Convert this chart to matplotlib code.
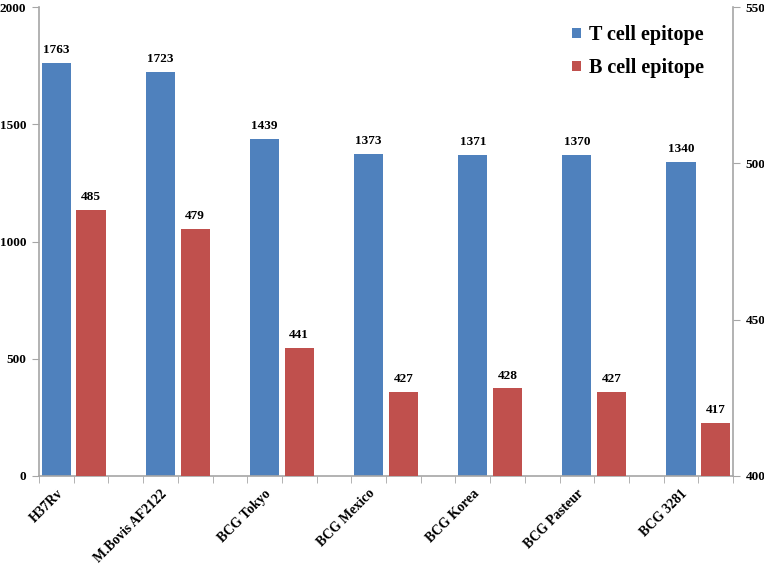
import matplotlib.pyplot as plt
import numpy as np

plt.rcParams['font.family'] = ['Liberation Serif', 'DejaVu Serif']
plt.rcParams['font.weight'] = 'bold'

# 数据
strains = ['H37Rv', 'M.Bovis AF2122', 'BCG Tokyo', 'BCG Mexico',
           'BCG Korea', 'BCG Pasteur', 'BCG 3281']
t_cell = [1763, 1723, 1439, 1373, 1371, 1370, 1340]
b_cell = [485, 479, 441, 427, 428, 427, 417]

blue = '#4F81BD'
red = '#C0504D'
axis_gray = '#A6A6A6'

fig = plt.figure(figsize=(7.64, 5.64), dpi=100)
ax = fig.add_axes([39 / 764, 88 / 564, 694 / 764, 469 / 564])
ax2 = ax.twinx()

# 每个菌株占3个位置：T细胞，B细胞，空白
n_slot = len(strains) * 3 - 1
x_t = np.arange(len(strains)) * 3
x_b = x_t + 1
w = 0.84

bars_t = ax.bar(x_t, t_cell, width=w, color=blue, label='T cell epitope')
bars_b = ax2.bar(x_b, b_cell, width=w, color=red, label='B cell epitope')

ax.set_xlim(-0.5, n_slot - 0.5)
ax.set_ylim(0, 2000)
ax2.set_ylim(400, 550)
ax.set_yticks([0, 500, 1000, 1500, 2000])
ax2.set_yticks([400, 450, 500, 550])

# 刻度放在每个位置的边界
ax.set_xticks(np.arange(n_slot + 1) - 0.5, minor=True)
ax.set_xticks(x_t)
ax.set_xticklabels(strains, rotation=45, ha='right', rotation_mode='anchor',
                   fontsize=9.8, fontweight='bold')
ax.tick_params(axis='x', which='major', length=0, pad=8)
ax.tick_params(axis='x', which='minor', length=5, color=axis_gray, direction='out')

for a in (ax, ax2):
    a.spines['top'].set_visible(False)
    for s in ('left', 'right', 'bottom'):
        a.spines[s].set_color(axis_gray)
        a.spines[s].set_linewidth(1.2)
    a.tick_params(axis='y', length=5, color=axis_gray, labelsize=9.5, pad=4)
ax.spines['right'].set_visible(False)
ax2.spines['left'].set_visible(False)
ax2.spines['bottom'].set_visible(False)

for lbl in ax.get_yticklabels() + ax2.get_yticklabels():
    lbl.set_fontweight('bold')

# 数值标签
for b, v in zip(bars_t, t_cell):
    ax.annotate(str(v), (b.get_x() + b.get_width() / 2, v), xytext=(0, 5),
                textcoords='offset points', ha='center', va='bottom',
                fontsize=9.5, fontweight='bold')
for b, v in zip(bars_b, b_cell):
    ax2.annotate(str(v), (b.get_x() + b.get_width() / 2, v), xytext=(0, 5),
                 textcoords='offset points', ha='center', va='bottom',
                 fontsize=9.5, fontweight='bold')

handles = [bars_t, bars_b]
leg = ax2.legend(handles, ['T cell epitope', 'B cell epitope'], loc='upper right',
                 bbox_to_anchor=(0.985, 1.0), frameon=False,
                 prop={'size': 14.5, 'weight': 'bold'},
                 handlelength=0.45, handleheight=0.45, handletextpad=0.4,
                 labelspacing=0.65)

fig.savefig('out.png', dpi=100)
